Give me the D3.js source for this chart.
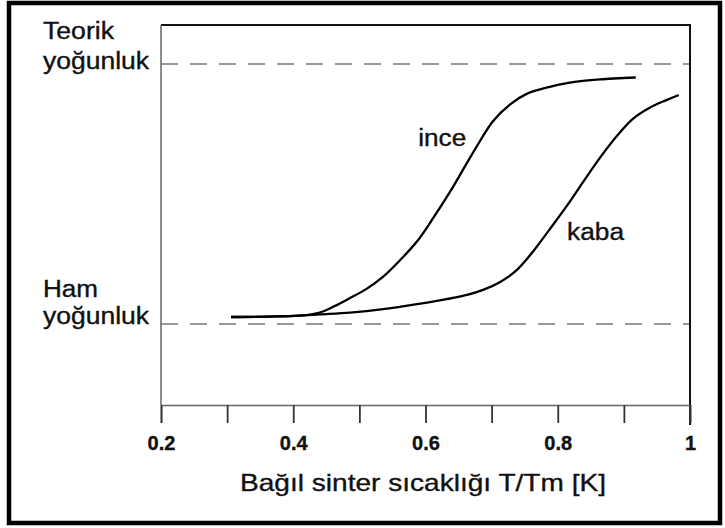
<!DOCTYPE html>
<html>
<head>
<meta charset="utf-8">
<script src="https://cdn.jsdelivr.net/npm/d3@7"></script>
<style>
  body { margin: 0; background: #fff; }
  svg { display: block; background: #fff; }
  text { font-family: "Liberation Sans", Arial, sans-serif; fill: #111; stroke: #111; stroke-width: 0.35px; }
</style>
</head>
<body>
<svg id="chart" width="725" height="528"></svg>
<script>
// x ticks (T/Tm), only the even ones carry a label
const xTicks = [0.2, 0.3, 0.4, 0.5, 0.6, 0.7, 0.8, 0.9, 1.0];
const xTickLabels = {0.2: '0.2', 0.4: '0.4', 0.6: '0.6', 0.8: '0.8', 1.0: '1'};

// relative density levels: 0 = green (ham), 1 = theoretical (teorik)
const levelValues = [1, 0];
const levelLabels = [['Teorik', 'yoğunluk'], ['Ham', 'yoğunluk']];

// fine powder curve ("ince")
const inceX = [0.306, 0.375, 0.415, 0.440, 0.462, 0.486, 0.512, 0.536, 0.561, 0.587,
               0.611, 0.637, 0.661, 0.682, 0.702, 0.728, 0.753, 0.788, 0.814, 0.838, 0.864, 0.918];
const inceY = [0.027, 0.029, 0.033, 0.044, 0.068, 0.100, 0.137, 0.182, 0.244, 0.317,
               0.405, 0.508, 0.612, 0.702, 0.780, 0.845, 0.885, 0.912, 0.926, 0.935, 0.941, 0.948];

// coarse powder curve ("kaba")
const kabaX = [0.306, 0.375, 0.415, 0.440, 0.486, 0.536, 0.561, 0.611, 0.663, 0.687,
               0.713, 0.737, 0.763, 0.788, 0.814, 0.838, 0.864, 0.890, 0.914, 0.939, 0.965, 0.983];
const kabaY = [0.027, 0.029, 0.033, 0.037, 0.044, 0.057, 0.066, 0.086, 0.112, 0.131,
               0.162, 0.205, 0.280, 0.365, 0.455, 0.545, 0.640, 0.725, 0.790, 0.832, 0.862, 0.881];

// curve name labels, anchored at (x, y) in data units
const curveNames = ['ince', 'kaba'];
const curveLabelX = [0.589, 0.814];
const curveLabelY = [0.685, 0.323];

const xTitle = 'Bağıl sinter sıcaklığı T/Tm [K]';

const svg = d3.select('#chart');
const W = 725, H = 528;
const margin = {top: 25, right: 35, bottom: 123, left: 161};

const x = d3.scaleLinear().domain([0.2, 1.0]).range([margin.left, W - margin.right]);
const y = d3.scaleLinear().domain([-0.3115, 1.15]).range([H - margin.bottom, margin.top]);

// outer frame
svg.append('rect')
    .attr('x', 9).attr('y', 3)
    .attr('width', 711).attr('height', 520)
    .attr('fill', 'none')
    .attr('stroke', '#000')
    .attr('stroke-width', 4.5);

// dashed reference levels
svg.append('g').selectAll('line')
    .data(levelValues)
    .join('line')
    .attr('x1', x(0.2)).attr('x2', x(1.0))
    .attr('y1', d => y(d)).attr('y2', d => y(d))
    .attr('stroke', '#999')
    .attr('stroke-width', 2)
    .attr('stroke-dasharray', '17 12');

// plot box: top and right black, left grey
svg.append('line')
    .attr('x1', x(0.2)).attr('x2', x(1.0) + 1)
    .attr('y1', y.range()[1]).attr('y2', y.range()[1])
    .attr('stroke', '#111').attr('stroke-width', 2);
svg.append('line')
    .attr('x1', x(0.2)).attr('x2', x(0.2))
    .attr('y1', y.range()[1]).attr('y2', y.range()[0])
    .attr('stroke', '#666').attr('stroke-width', 1.5);
svg.append('line')
    .attr('x1', x(1.0)).attr('x2', x(1.0))
    .attr('y1', y.range()[1]).attr('y2', y.range()[0] + 20)
    .attr('stroke', '#111').attr('stroke-width', 2);

// x axis
const xAxis = d3.axisBottom(x)
    .tickValues(xTicks)
    .tickSize(18)
    .tickPadding(13)
    .tickFormat(d => xTickLabels[d] || '');

const axisEl = svg.append('g')
    .attr('transform', 'translate(0,' + y.range()[0] + ')')
    .call(xAxis);

axisEl.select('.domain')
    .attr('stroke', '#666')
    .attr('stroke-width', 1.5);
axisEl.selectAll('.tick line')
    .attr('stroke', '#333')
    .attr('stroke-width', 1.8);
axisEl.selectAll('.tick text')
    .attr('fill', '#111')
    .style('font-family', '"Liberation Sans", Arial, sans-serif')
    .style('font-size', '20px')
    .style('font-weight', 'bold');

// curves
const line = d3.line()
    .x(d => x(d[0]))
    .y(d => y(d[1]))
    .curve(d3.curveCatmullRom.alpha(0.5));

const series = [d3.zip(inceX, inceY), d3.zip(kabaX, kabaY)];
svg.append('g').selectAll('path')
    .data(series)
    .join('path')
    .attr('d', line)
    .attr('fill', 'none')
    .attr('stroke', '#000')
    .attr('stroke-width', 2.3);

// curve names
svg.append('g').selectAll('text')
    .data(curveNames)
    .join('text')
    .attr('x', (d, i) => x(curveLabelX[i]))
    .attr('y', (d, i) => y(curveLabelY[i]))
    .attr('textLength', (d, i) => [48, 57][i])
    .attr('lengthAdjust', 'spacingAndGlyphs')
    .style('font-size', '23px')
    .text(d => d);

// level labels on the left
const levelOffsets = [[-25, 5], [-27, -0.5]];
const levelWidths = [[71, 106], [55, 106]];
levelLabels.forEach((lines, i) => {
  lines.forEach((t, j) => {
    svg.append('text')
        .attr('x', 43)
        .attr('y', y(levelValues[i]) + levelOffsets[i][j])
        .attr('textLength', levelWidths[i][j])
        .attr('lengthAdjust', 'spacingAndGlyphs')
        .style('font-size', '23px')
        .text(t);
  });
});

// x axis title
svg.append('text')
    .attr('x', 240)
    .attr('y', 491)
    .attr('textLength', 366)
    .attr('lengthAdjust', 'spacingAndGlyphs')
    .style('font-size', '24px')
    .text(xTitle);
</script>
</body>
</html>
